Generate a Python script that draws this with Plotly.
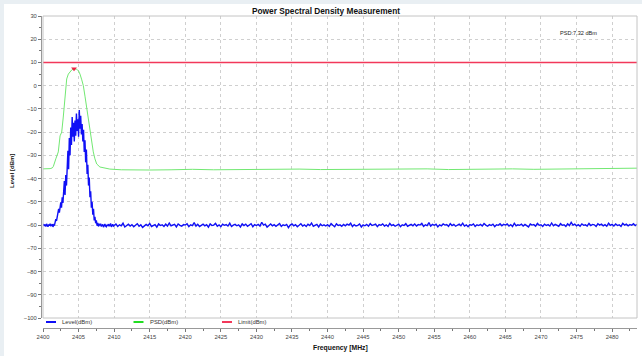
import plotly.graph_objects as go

# ---------------- data ----------------
# Level trace, signal region: 2400.0 .. 2409.9 MHz, 0.1 MHz sweep step
sig_start, sig_step = 2400.0, 0.1
level_sig = [
    -60.2, -59.6, -60.4, -59.8, -60.6, -59.5, -60.1, -60.7, -59.7, -60.3,
    -59.4, -60.5, -60.0, -59.6, -60.8, -59.9, -60.2,
    -58.8, -57.5, -58.2, -56.0,
    -55.2, -53.0, -54.6, -51.5, -50.2,
    -52.5, -48.0, -50.5, -45.2,
    -41.0, -47.0, -38.5, -43.0, -33.0,
    -28.0, -36.0, -22.5, -30.0, -18.0,
    -25.5, -13.5, -22.0, -16.0, -24.0,
    -15.0, -21.5, -12.0, -19.5, -14.5,
    -22.0, -10.5, -18.5, -13.0, -21.0,
    -16.5, -24.0, -19.0, -28.5, -23.5,
    -33.0, -27.5, -38.0, -34.0, -43.0,
    -39.5, -48.0, -45.5, -52.5, -50.0,
    -55.5, -53.0, -58.0, -56.5, -59.2,
    -58.0, -60.3, -59.1, -60.6, -59.5,
    -60.1, -59.4, -60.6, -60.0, -59.7, -60.9, -60.2, -59.5, -60.4, -60.7,
    -59.8, -60.3, -59.6, -60.5, -60.0, -59.3, -60.8, -60.1, -59.7, -60.4,
]

# Level trace, noise floor: 2410.0 .. 2483.5 MHz, 0.25 MHz sweep step
floor_start, floor_step = 2410.0, 0.25
level_floor = [
    -60.2, -59.5, -60.6, -59.9, -60.3, -59.2, -60.8, -60.0, -59.6, -60.4,
    -59.8, -60.7, -60.1, -59.4, -60.5, -59.9, -61.0, -60.2, -59.7, -60.3,
    -59.3, -60.6, -60.0, -59.8, -60.9, -59.5, -60.2, -59.9, -60.6, -59.6,
    -60.4, -59.1, -60.3, -60.0, -59.7, -60.8, -59.5, -60.1, -60.5, -59.8,
    -60.0, -59.4, -60.7, -59.9, -60.2, -58.9, -60.4, -59.7, -60.6, -60.1,
    -59.6, -60.3, -59.8, -60.9, -59.5, -60.2, -60.0, -59.3, -60.5, -59.9,
    -60.7, -59.6, -60.1, -59.8, -60.4, -59.2, -60.6, -60.0, -59.7, -60.3,
    -59.9, -60.8, -59.5, -60.2, -59.6, -60.5, -60.1, -59.4, -60.7, -59.8,
    -60.2, -59.7, -60.4, -58.8, -60.0, -59.6, -60.9, -60.1, -59.5, -60.3,
    -59.8, -60.5, -60.0, -59.3, -60.6, -59.9, -60.2, -59.7, -61.1, -60.0,
    -59.5, -60.3, -59.8, -60.7, -60.1, -59.4, -60.4, -59.9, -60.6, -59.6,
    -60.2, -59.1, -60.5, -60.0, -59.7, -60.8, -59.6, -60.3, -59.9, -60.4,
    -59.8, -60.6, -59.4, -60.1, -60.7, -59.5, -60.2, -59.9, -60.5, -59.7,
    -60.3, -59.6, -60.0, -59.2, -60.6, -59.8, -60.4, -60.1, -59.5, -60.8,
    -59.9, -60.3, -59.7, -60.5, -59.4, -60.2, -60.0, -59.6, -60.7, -59.8,
    -60.1, -59.5, -60.4, -59.9, -60.6, -59.3, -60.2, -59.8, -60.5, -60.0,
    -59.6, -60.7, -59.9, -60.2, -59.4, -60.5, -60.1, -59.7, -60.3, -59.5,
    -60.4, -59.8, -60.0, -59.3, -60.6, -59.9, -60.2, -58.9, -60.4, -59.7,
    -60.1, -59.6, -60.8, -59.9, -60.3, -59.5, -60.0, -59.8, -60.6, -59.4,
    -60.2, -59.7, -60.5, -60.0, -59.6, -60.3, -59.2, -60.4, -59.9, -60.7,
    -59.8, -60.1, -59.5, -60.6, -59.9, -60.2, -59.7, -60.4, -59.3, -60.0,
    -60.5, -59.8, -60.2, -59.6, -60.7, -59.9, -60.1, -59.4, -60.3, -59.7,
    -60.0, -59.5, -60.4, -59.8, -60.6, -59.2, -60.3, -59.9, -60.1, -59.6,
    -60.4, -59.7, -60.2, -60.8, -59.5, -60.0, -59.8, -60.5, -59.3, -60.1,
    -59.9, -60.6, -59.6, -60.2, -59.8, -60.4, -59.1, -60.3, -59.7, -60.0,
    -60.5, -59.4, -60.1, -59.9, -60.6, -59.5, -60.2, -58.8, -60.0, -59.6,
    -60.3, -59.8, -60.5, -59.5, -60.1, -59.9, -60.4, -59.3, -60.2, -59.7,
    -59.9, -60.6, -59.4, -60.0, -59.6, -60.3, -59.8, -60.5, -59.2, -60.1,
    -59.7, -60.4, -59.5, -60.2, -59.9, -60.6, -59.3, -60.0, -59.6, -60.3,
    -59.8, -60.1, -59.4, -60.2, -59.7,
]

# PSD trace
psd_freq = [2400.0, 2400.6, 2401.0, 2401.3, 2401.45, 2401.8, 2402.15, 2402.4,
            2402.63, 2402.85, 2403.1, 2403.33, 2403.56, 2403.8, 2404.04, 2404.36,
            2404.74, 2405.0, 2405.2, 2405.45, 2405.67, 2405.9, 2406.15, 2406.4,
            2406.6, 2406.85, 2407.07, 2407.3, 2407.55, 2408.0, 2409.4, 2411,
            2413, 2415, 2418, 2421, 2424, 2427, 2430, 2433, 2436, 2439, 2442,
            2445, 2448, 2451, 2454, 2457, 2460, 2463, 2466, 2469, 2472, 2475,
            2478, 2481, 2483.5]
psd_level = [-35.8, -35.9, -35.7, -35.4, -34.8, -31.5, -28.5, -21.6,
             -20.0, -13.5, -5.7, 2.9, 5.0, 6.0, 6.8, 7.32,
             7.1, 6.3, 5.0, 2.5, 0.0, -4.5, -10.0, -15.5,
             -20.0, -25.0, -28.5, -31.5, -33.7, -35.0, -35.9, -36.2,
             -36.1, -36.3, -36.2, -36.0, -36.2, -36.1, -36.0, -36.2, -35.9, -36.1, -36.0,
             -36.2, -35.9, -36.0, -35.8, -36.1, -35.9, -36.0, -35.8, -36.0, -35.9, -35.7,
             -35.8, -35.6, -35.5]

# Limit line
limit_freq = [2400.0, 2483.5]
limit_level = [10, 10]

x_ticks = [2400 + 5 * i for i in range(17)]
y_ticks = [30, 20, 10, 0, -10, -20, -30, -40, -50, -60, -70, -80, -90, -100]

series_names = ["Level(dBm)", "PSD(dBm)", "Limit(dBm)"]
series_colors = ["#1010f5", "#72e872", "#f2385a"]

psd_peak_value = max(psd_level)
psd_peak_freq = psd_freq[psd_level.index(psd_peak_value)]

# -------------- build --------------
level_freq = [sig_start + sig_step * i for i in range(len(level_sig))] + \
             [floor_start + floor_step * i for i in range(len(level_floor))]
level_vals = level_sig + level_floor

FONT = "Liberation Sans, Arial, sans-serif"

fig = go.Figure()
fig.add_trace(go.Scatter(x=level_freq, y=level_vals, mode="lines", name=series_names[0],
                         line=dict(color=series_colors[0], width=1.4), showlegend=False))
fig.add_trace(go.Scatter(x=psd_freq, y=psd_level, mode="lines", name=series_names[1],
                         line=dict(color=series_colors[1], width=1), showlegend=False))
fig.add_trace(go.Scatter(x=limit_freq, y=limit_level, mode="lines", name=series_names[2],
                         line=dict(color=series_colors[2], width=1.6), showlegend=False))
fig.add_trace(go.Scatter(x=[psd_peak_freq], y=[psd_peak_value], mode="markers",
                         marker=dict(symbol="triangle-down", size=5, color="#ee2244"),
                         showlegend=False, hoverinfo="skip"))

W, H = 642, 356
ML, MR, MT, MB = 41, 5, 16, 28
pw, ph = W - ML - MR, H - MT - MB

def px_x(p):
    return (p - ML) / pw

def px_y(p):
    return (H - MB - p) / ph

shapes = [
    # white panel on light background
    dict(type="rect", xref="paper", yref="paper", x0=px_x(4), x1=px_x(W + 2),
         y0=px_y(H + 2), y1=px_y(4), fillcolor="white", line=dict(width=0), layer="below"),
    # plot frame
    dict(type="rect", xref="x domain", yref="y domain", x0=0, x1=1, y0=0, y1=1,
         line=dict(color="#c4c4c4", width=1), layer="above"),
]
annotations = [
    dict(text="PSD:7.32 dBm", xref="paper", yref="paper", x=px_x(558), y=px_y(33),
         xanchor="left", yanchor="middle", showarrow=False,
         font=dict(family=FONT, size=5.6, color="#222")),
]

# custom legend (below the plot frame)
leg_line_x = [46, 133.5, 222]
leg_text_x = [59.5, 147.5, 236]
leg_y = 322
for i, name in enumerate(series_names):
    shapes.append(dict(type="line", xref="paper", yref="paper",
                       x0=px_x(leg_line_x[i]), x1=px_x(leg_line_x[i] + 10),
                       y0=px_y(leg_y), y1=px_y(leg_y),
                       line=dict(color=series_colors[i] if i != 1 else "#22dd22", width=2)))
    annotations.append(dict(text=name, xref="paper", yref="paper", x=px_x(leg_text_x[i]),
                            y=px_y(leg_y), xanchor="left", yanchor="middle", showarrow=False,
                            font=dict(family=FONT, size=5.9, color="#333")))

# axis titles
annotations.append(dict(text="<b>Frequency [MHz]</b>", xref="paper", yref="paper",
                        x=px_x(340), y=px_y(348), xanchor="center", yanchor="middle",
                        showarrow=False, font=dict(family=FONT, size=6.8, color="#111")))
annotations.append(dict(text="<b>Level [dBm]</b>", xref="paper", yref="paper",
                        x=px_x(12), y=px_y(171), xanchor="center", yanchor="middle",
                        textangle=-90, showarrow=False,
                        font=dict(family=FONT, size=6, color="#111")))
annotations.append(dict(text="<b>Power Spectral Density Measurement</b>", xref="paper", yref="paper",
                        x=px_x(325.5), y=px_y(11), xanchor="center", yanchor="middle",
                        showarrow=False, font=dict(family=FONT, size=8.3, color="#111")))

fig.update_layout(
    width=W, height=H,
    margin=dict(l=ML, r=MR, t=MT, b=MB, pad=0),
    paper_bgcolor="#e9eff3",
    plot_bgcolor="white",
    shapes=shapes,
    annotations=annotations,
    font=dict(family=FONT, size=6, color="#444"),
    xaxis=dict(
        range=[2400, 2483.5], domain=[px_x(43), px_x(637)],
        anchor="free", position=0,
        tickvals=x_ticks, ticks="outside", ticklen=3, tickcolor="#777", tickwidth=1,
        tickfont=dict(family=FONT, size=5.8, color="#444"),
        showline=True, linecolor="#999", linewidth=1,
        showgrid=True, gridcolor="#cfcfcf", griddash="dot", gridwidth=1,
        zeroline=False,
        minor=dict(dtick=2.5, tick0=2400, ticks="outside", ticklen=2, tickcolor="#777", showgrid=False),
    ),
    yaxis=dict(
        range=[-100, 30], domain=[px_y(318), 1],
        anchor="free", position=0,
        tickvals=y_ticks, ticks="outside", ticklen=3, tickcolor="#777", tickwidth=1,
        tickfont=dict(family=FONT, size=5.8, color="#444"),
        showline=True, linecolor="#999", linewidth=1,
        showgrid=True, gridcolor="#cfcfcf", griddash="dot", gridwidth=1,
        zeroline=False,
        minor=dict(dtick=5, tick0=0, ticks="outside", ticklen=2, tickcolor="#777", showgrid=False),
    ),
)

fig.write_html("out.html")
